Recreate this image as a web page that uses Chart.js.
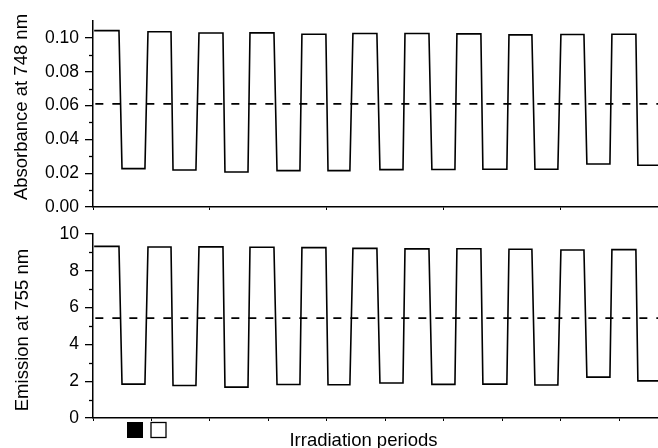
<!DOCTYPE html>
<html>
<head>
<meta charset="utf-8">
<script src="https://cdn.jsdelivr.net/npm/chart.js@4.4.1/dist/chart.umd.min.js"></script>
<style>
  html, body { margin: 0; padding: 0; background: #fff; }
  #wrap { position: relative; width: 658px; height: 448px; overflow: hidden; background: #fff; }
  #c1 { position: absolute; left: 0; top: 0; }
  #c2 { position: absolute; left: 0; top: 224px; }
</style>
</head>
<body>
<div id="wrap">
  <canvas id="c1" width="658" height="224"></canvas>
  <canvas id="c2" width="658" height="224"></canvas>
</div>
<script>
// Corner times of the square wave: each cycle = [high start, high end, low start, low end]
const cornerTimes = [
  1.0, 22.2, 24.8, 44.4,
  47.0, 66.7, 68.4, 88.0,
  90.6, 111.1, 112.8, 132.5,
  134.2, 154.7, 157.3, 176.9,
  178.6, 199.1, 200.9, 219.6,
  222.2, 242.7, 245.3, 265.0,
  266.7, 287.2, 289.7, 309.4,
  311.1, 331.6, 333.3, 353.8,
  355.6, 375.2, 377.8, 397.4,
  400.0, 419.7, 422.2, 441.9,
  443.6, 464.1, 465.8, 483.0
];

// Absorbance at 748 nm, plateau levels per cycle
const absorbanceHigh = [0.1043, 0.1036, 0.1029, 0.1030, 0.1022, 0.1026, 0.1026, 0.1024, 0.1018, 0.1020, 0.1022];
const absorbanceLow  = [0.0227, 0.0219, 0.0207, 0.0215, 0.0215, 0.0221, 0.0222, 0.0223, 0.0223, 0.0254, 0.0247];
const absorbanceThreshold = 0.061;

// Emission at 755 nm, plateau levels per cycle
const emissionHigh = [9.33, 9.29, 9.30, 9.28, 9.26, 9.22, 9.19, 9.20, 9.17, 9.13, 9.15];
const emissionLow  = [1.84, 1.77, 1.68, 1.82, 1.81, 1.90, 1.83, 1.84, 1.79, 2.22, 2.02];
const emissionThreshold = 5.43;

// Axis ticks
const absorbanceMajorStep = 0.02;
const absorbanceMinorTicks = [0.01, 0.03, 0.05, 0.07, 0.09];
const emissionMajorStep = 2;
const emissionMinorTicks = [1, 3, 5, 7, 9];
const timeMax = 483;

const FONT = "'Liberation Sans', Arial, Helvetica, sans-serif";

function squareWave(high, low) {
  const pts = [];
  for (let i = 0; i < high.length; i++) {
    pts.push({ x: cornerTimes[4 * i],     y: high[i] });
    pts.push({ x: cornerTimes[4 * i + 1], y: high[i] });
    pts.push({ x: cornerTimes[4 * i + 2], y: low[i] });
    pts.push({ x: cornerTimes[4 * i + 3], y: low[i] });
  }
  return pts;
}

// Minor y ticks, axis titles and the period key
const decorPlugin = {
  id: 'decor',
  afterDraw(chart, args, opts) {
    const ctx = chart.ctx;
    const ys = chart.scales.y;
    ctx.save();
    ctx.strokeStyle = '#000';
    ctx.lineWidth = 1.3;
    (opts.minor || []).forEach(v => {
      const py = Math.round(ys.getPixelForValue(v)) + 0.5;
      ctx.beginPath();
      ctx.moveTo(ys.right - 4, py);
      ctx.lineTo(ys.right, py);
      ctx.stroke();
    });
    ctx.fillStyle = '#000';
    ctx.font = '18.5px ' + FONT;
    if (opts.yTitle) {
      ctx.save();
      ctx.translate(opts.yTitle.x, opts.yTitle.y);
      ctx.rotate(-Math.PI / 2);
      ctx.textAlign = 'center';
      ctx.textBaseline = 'middle';
      ctx.fillText(opts.yTitle.text, 0, 0);
      ctx.restore();
    }
    if (opts.xTitle) {
      ctx.textAlign = 'center';
      ctx.textBaseline = 'alphabetic';
      ctx.fillText(opts.xTitle.text, opts.xTitle.x, opts.xTitle.y);
    }
    if (opts.key) {
      const k = opts.key;
      ctx.fillStyle = '#000';
      ctx.fillRect(k.x, k.y, k.size, k.size);
      ctx.fillStyle = '#fff';
      ctx.fillRect(k.x + k.gap, k.y, k.size, k.size);
      ctx.lineWidth = 1.3;
      ctx.strokeStyle = '#000';
      ctx.strokeRect(k.x + k.gap + 0.5, k.y + 0.5, k.size - 1, k.size - 1);
    }
    ctx.restore();
  }
};

function makeChart(canvasId, cfg) {
  return new Chart(document.getElementById(canvasId), {
    type: 'line',
    data: {
      datasets: [
        {
          data: squareWave(cfg.high, cfg.low),
          borderColor: '#000',
          borderWidth: 1.6,
          pointRadius: 0,
          tension: 0,
          fill: false
        },
        {
          data: [{ x: 2, y: cfg.threshold }, { x: timeMax, y: cfg.threshold }],
          borderColor: '#000',
          borderWidth: 1.6,
          borderDash: [8, 9],
          pointRadius: 0,
          fill: false
        }
      ]
    },
    options: {
      responsive: false,
      animation: false,
      devicePixelRatio: 1,
      layout: { padding: { left: 0, right: 0, top: cfg.padTop, bottom: 0 } },
      plugins: {
        legend: { display: false },
        tooltip: { enabled: false },
        decor: cfg.decor
      },
      scales: {
        x: {
          type: 'linear',
          min: 0,
          max: timeMax,
          ticks: { display: false, stepSize: cfg.xStep, includeBounds: false },
          grid: { display: true, drawOnChartArea: false, drawTicks: true, tickLength: 3, color: '#000', lineWidth: 1 },
          border: { display: true, color: '#000', width: 1.5 },
          afterFit: s => { s.height = cfg.xHeight; s.paddingLeft = 0; s.paddingRight = 0; }
        },
        y: {
          min: 0,
          max: cfg.yMax,
          ticks: {
            stepSize: cfg.yStep,
            includeBounds: false,
            padding: 6,
            color: '#000',
            font: { family: FONT, size: 17.5 },
            callback: v => cfg.fmt(v)
          },
          grid: { display: true, drawOnChartArea: false, drawTicks: true, tickLength: 8, color: '#000', lineWidth: 1.3 },
          border: { display: true, color: '#000', width: 1.5 },
          afterFit: s => { s.width = 93; s.paddingTop = 0; s.paddingBottom = 0; }
        }
      }
    },
    plugins: [decorPlugin]
  });
}

makeChart('c1', {
  high: absorbanceHigh, low: absorbanceLow, threshold: absorbanceThreshold,
  yMax: 0.11, yStep: absorbanceMajorStep, xStep: 100,
  fmt: v => v.toFixed(2),
  padTop: 21, xHeight: 17,
  decor: {
    minor: absorbanceMinorTicks,
    yTitle: { text: 'Absorbance at 748 nm', x: 22, y: 107 }
  }
});

makeChart('c2', {
  high: emissionHigh, low: emissionLow, threshold: emissionThreshold,
  yMax: 10, yStep: emissionMajorStep, xStep: 50,
  fmt: v => String(Math.round(v)),
  padTop: 10, xHeight: 30,
  decor: {
    minor: emissionMinorTicks,
    yTitle: { text: 'Emission at 755 nm', x: 23, y: 106 },
    xTitle: { text: 'Irradiation periods', x: 363.5, y: 222 },
    key: { x: 127, y: 198, size: 16, gap: 23.5 }
  }
});
</script>
</body>
</html>
